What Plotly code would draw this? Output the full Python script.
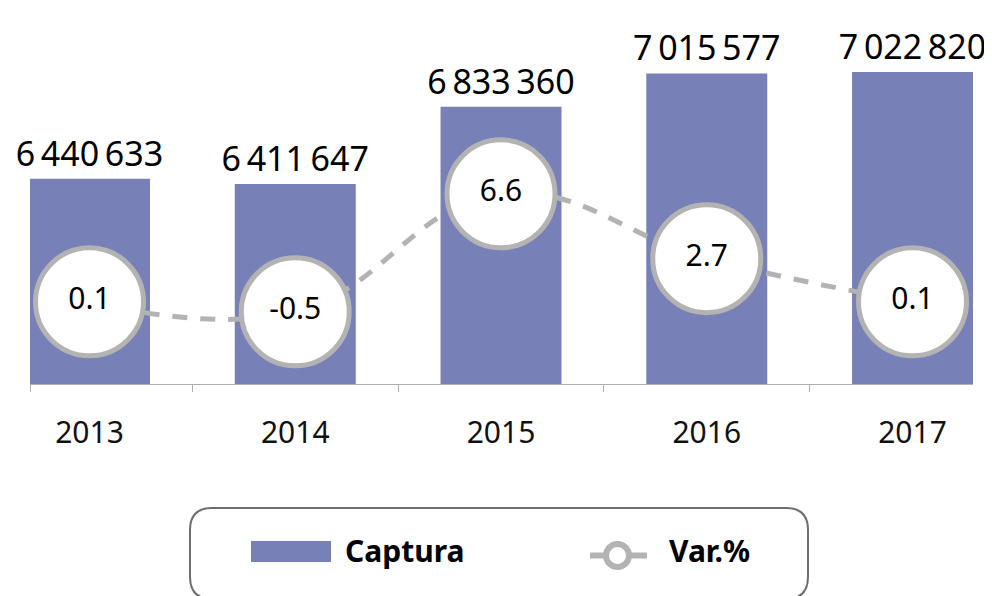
import plotly.graph_objects as go

# ---- data ----
years = ["2013", "2014", "2015", "2016", "2017"]
captura = [6440633, 6411647, 6833360, 7015577, 7022820]
var_pct = [0.1, -0.5, 6.6, 2.7, 0.1]

captura_labels = [f"{v:,}".replace(",", "\u2009") for v in captura]
var_labels = [f"{v:.1f}" for v in var_pct]

BAR_COLOR = "#7880b8"
GRAY = "#b3b3b3"
FONT = "Noto Sans"

# page body has an 8px margin; figure sized so it fits the 992x596 window
OFF = 8
W, H = 992 - OFF, 596 - OFF
LEFT, RIGHT, TOP, BASE = 30, 973, 20, 384   # screen pixels of plot area
ML = LEFT - OFF
MR = W - (RIGHT - OFF)
MT = TOP - OFF
MB = H - (BASE - OFF)
PW = RIGHT - LEFT
PH = BASE - TOP


def X(px):
    return (px - LEFT) / PW


def Y(py):
    return (BASE - py) / PH


xpos = list(range(len(years)))

fig = go.Figure()
fig.add_trace(go.Bar(
    x=xpos, y=captura, name="Captura",
    marker=dict(color=BAR_COLOR, line=dict(width=0)),
    width=0.588,
    text=captura_labels, textposition="outside", constraintext="none",
    textfont=dict(family=FONT, size=34, color="#000000"),
    cliponaxis=False, showlegend=False, hoverinfo="skip",
))
fig.add_trace(go.Scatter(
    x=xpos, y=var_pct, name="Var.%", yaxis="y2",
    mode="lines+markers+text",
    line=dict(color=GRAY, width=5, dash="15px,13px", shape="spline", smoothing=1.2),
    marker=dict(size=108, color="#ffffff", line=dict(color=GRAY, width=5)),
    text=var_labels, textposition="middle center",
    textfont=dict(family=FONT, size=30, color="#000000"),
    cliponaxis=False, showlegend=False, hoverinfo="skip",
))

# custom legend
L, R, T, B, r = 190, 808, 508, 599, 22
path = (f"M {X(L + r)},{Y(T)} L {X(R - r)},{Y(T)} Q {X(R)},{Y(T)} {X(R)},{Y(T + r)} "
        f"L {X(R)},{Y(B - r)} Q {X(R)},{Y(B)} {X(R - r)},{Y(B)} "
        f"L {X(L + r)},{Y(B)} Q {X(L)},{Y(B)} {X(L)},{Y(B - r)} "
        f"L {X(L)},{Y(T + r)} Q {X(L)},{Y(T)} {X(L + r)},{Y(T)} Z")
shapes = [
    dict(type="path", xref="paper", yref="paper", path=path,
         line=dict(color="#6e6e6e", width=2), fillcolor="rgba(0,0,0,0)"),
    dict(type="rect", xref="paper", yref="paper", x0=X(251), x1=X(331), y0=Y(562), y1=Y(541),
         fillcolor=BAR_COLOR, line=dict(width=0)),
    dict(type="line", xref="paper", yref="paper", x0=X(590), x1=X(647), y0=Y(555.5), y1=Y(555.5),
         line=dict(color=GRAY, width=6)),
    dict(type="circle", xref="paper", yref="paper", x0=X(606), x1=X(629), y0=Y(567), y1=Y(544),
         fillcolor="#ffffff", line=dict(color=GRAY, width=6)),
]
annotations = [
    dict(text="<b>Captura</b>", xref="paper", yref="paper", x=X(343), y=Y(550),
         xanchor="left", yanchor="middle", showarrow=False,
         font=dict(family=FONT, size=30, color="#000000")),
    dict(text="<b>Var.%</b>", xref="paper", yref="paper", x=X(667), y=Y(550),
         xanchor="left", yanchor="middle", showarrow=False,
         font=dict(family=FONT, size=30, color="#000000")),
]

fig.update_layout(
    width=W, height=H,
    margin=dict(l=ML, r=MR, t=MT, b=MB),
    paper_bgcolor="#ffffff", plot_bgcolor="#ffffff",
    font=dict(family=FONT, color="#000000"),
    xaxis=dict(
        range=[-0.2892, 4.294],
        tickmode="array", tickvals=xpos, ticktext=years,
        ticks="outside", ticklen=22, tickcolor="rgba(0,0,0,0)",
        tickfont=dict(family=FONT, size=30, color="#111111"),
        showline=True, linecolor="#b0b0b0", linewidth=1,
        showgrid=False, zeroline=False,
        minor=dict(tickmode="array", tickvals=[-0.2892, 0.5, 1.5, 2.5, 3.5],
                   ticks="outside", ticklen=7, tickcolor="#b0b0b0", tickwidth=1, showgrid=False),
    ),
    yaxis=dict(range=[5319300, 7307300], visible=False),
    yaxis2=dict(range=[-4.843, 17.06], overlaying="y", visible=False),
    shapes=shapes,
    annotations=annotations,
    bargap=0.4,
)

fig.write_html("out.html")
